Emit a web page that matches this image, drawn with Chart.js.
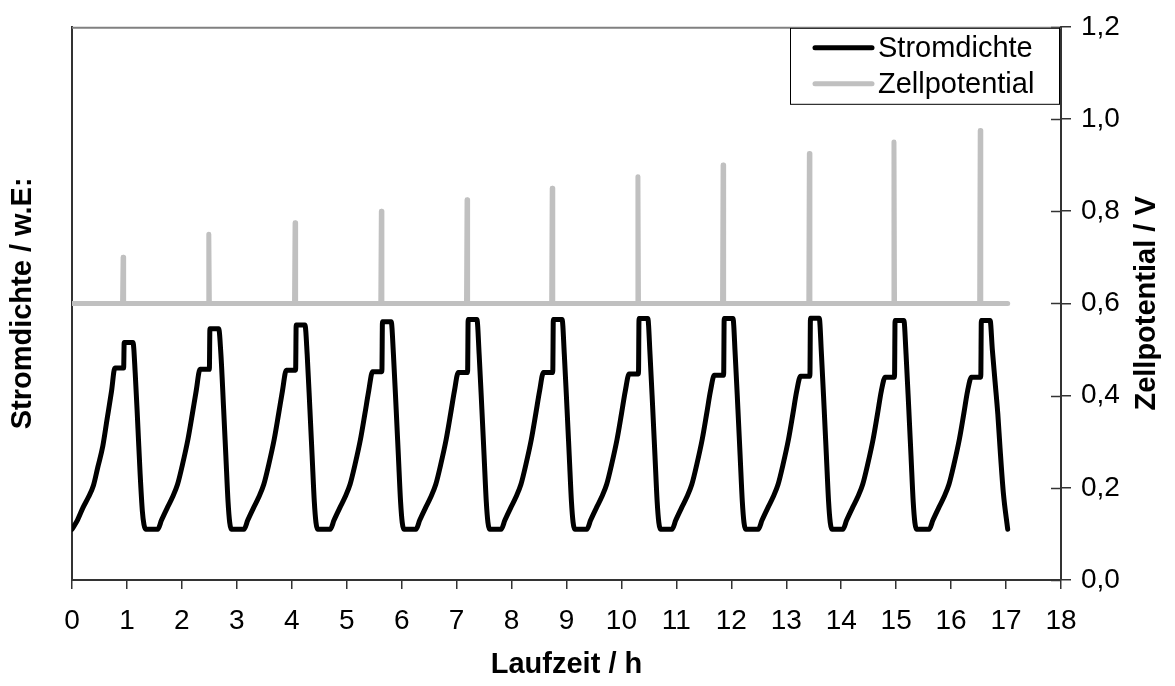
<!DOCTYPE html>
<html>
<head>
<meta charset="utf-8">
<script src="https://cdn.jsdelivr.net/npm/chart.js@4/dist/chart.umd.min.js"></script>
<style>
  html, body { margin: 0; padding: 0; background: #fff; }
</style>
</head>
<body>
<canvas id="chart" width="1175" height="686"></canvas>
<script>
// Laufzeit [h] / Stromdichte [w.E., im Maßstab der rechten Achse]
const stromdichte = [
  [0.00,0.110],[0.10,0.130],[0.20,0.157],[0.30,0.180],[0.39,0.205],[0.47,0.245],[0.56,0.290],[0.64,0.350],[0.72,0.410],[0.78,0.460],[0.94,0.460],[0.95,0.515],[1.11,0.515],[1.15,0.450],[1.20,0.330],[1.24,0.230],[1.28,0.150],[1.31,0.120],[1.34,0.110],
  [1.56,0.110],[1.63,0.130],[1.74,0.158],[1.83,0.180],[1.92,0.207],[2.01,0.250],[2.11,0.305],[2.19,0.360],[2.26,0.410],[2.33,0.457],[2.50,0.457],[2.51,0.545],[2.67,0.545],[2.71,0.490],[2.76,0.370],[2.80,0.270],[2.84,0.170],[2.87,0.125],[2.90,0.110],
  [3.13,0.110],[3.20,0.130],[3.31,0.158],[3.40,0.180],[3.49,0.207],[3.58,0.250],[3.68,0.305],[3.76,0.360],[3.83,0.410],[3.90,0.455],[4.07,0.455],[4.08,0.553],[4.24,0.553],[4.28,0.490],[4.33,0.370],[4.37,0.270],[4.41,0.170],[4.44,0.125],[4.47,0.110],
  [4.70,0.110],[4.77,0.130],[4.88,0.158],[4.97,0.180],[5.06,0.207],[5.15,0.250],[5.25,0.305],[5.33,0.360],[5.40,0.410],[5.47,0.452],[5.64,0.452],[5.65,0.560],[5.81,0.560],[5.85,0.490],[5.90,0.370],[5.94,0.270],[5.98,0.170],[6.01,0.125],[6.04,0.110],
  [6.26,0.110],[6.33,0.130],[6.44,0.158],[6.53,0.180],[6.62,0.207],[6.71,0.250],[6.81,0.305],[6.89,0.360],[6.96,0.410],[7.03,0.450],[7.20,0.450],[7.21,0.565],[7.37,0.565],[7.41,0.490],[7.46,0.370],[7.50,0.270],[7.54,0.170],[7.57,0.125],[7.60,0.110],
  [7.81,0.110],[7.88,0.130],[7.99,0.158],[8.08,0.180],[8.17,0.207],[8.26,0.250],[8.36,0.305],[8.44,0.360],[8.51,0.410],[8.58,0.450],[8.75,0.450],[8.76,0.565],[8.92,0.565],[8.96,0.490],[9.01,0.370],[9.05,0.270],[9.09,0.170],[9.12,0.125],[9.15,0.110],
  [9.37,0.110],[9.44,0.130],[9.55,0.158],[9.64,0.180],[9.73,0.207],[9.82,0.250],[9.92,0.305],[10.00,0.360],[10.07,0.410],[10.14,0.447],[10.31,0.447],[10.32,0.567],[10.48,0.567],[10.52,0.490],[10.57,0.370],[10.61,0.270],[10.65,0.170],[10.68,0.125],[10.71,0.110],
  [10.92,0.110],[10.99,0.130],[11.10,0.158],[11.19,0.180],[11.28,0.207],[11.37,0.250],[11.47,0.305],[11.55,0.360],[11.62,0.410],[11.69,0.444],[11.86,0.444],[11.87,0.567],[12.03,0.567],[12.07,0.490],[12.12,0.370],[12.16,0.270],[12.20,0.170],[12.23,0.125],[12.26,0.110],
  [12.49,0.110],[12.56,0.130],[12.67,0.158],[12.76,0.180],[12.85,0.207],[12.94,0.250],[13.04,0.305],[13.12,0.360],[13.19,0.410],[13.26,0.442],[13.43,0.442],[13.44,0.568],[13.60,0.568],[13.64,0.490],[13.69,0.370],[13.73,0.270],[13.77,0.170],[13.80,0.125],[13.83,0.110],
  [14.03,0.110],[14.10,0.130],[14.21,0.158],[14.30,0.180],[14.39,0.207],[14.48,0.250],[14.58,0.305],[14.66,0.360],[14.73,0.410],[14.80,0.440],[14.97,0.440],[14.98,0.563],[15.14,0.563],[15.18,0.490],[15.23,0.370],[15.27,0.270],[15.31,0.170],[15.34,0.125],[15.37,0.110],
  [15.60,0.110],[15.67,0.130],[15.78,0.158],[15.87,0.180],[15.96,0.207],[16.05,0.250],[16.15,0.305],[16.23,0.360],[16.30,0.410],[16.37,0.440],[16.54,0.440],[16.55,0.563],[16.71,0.563],[16.75,0.500],[16.80,0.430],[16.85,0.360],[16.89,0.287],[16.95,0.190],[17.03,0.110]
];

// Laufzeit [h] / Zellpotential [V]
const zellpotential = [
  [0,0.6],
  [0.92,0.6],[0.93,0.700],[0.94,0.6],
  [2.48,0.6],[2.49,0.750],[2.50,0.6],
  [4.05,0.6],[4.06,0.775],[4.07,0.6],
  [5.62,0.6],[5.63,0.800],[5.64,0.6],
  [7.18,0.6],[7.19,0.825],[7.20,0.6],
  [8.73,0.6],[8.74,0.850],[8.75,0.6],
  [10.29,0.6],[10.30,0.875],[10.31,0.6],
  [11.84,0.6],[11.85,0.900],[11.86,0.6],
  [13.41,0.6],[13.42,0.925],[13.43,0.6],
  [14.95,0.6],[14.96,0.950],[14.97,0.6],
  [16.52,0.6],[16.53,0.975],[16.54,0.6],
  [17.03,0.6]
];

const xBereich = [0, 18];
const yBereich = [0, 1.2];

const achsenFarbe = '#333';
const schrift = "'Liberation Sans', Arial, sans-serif";
Chart.defaults.font.family = schrift;
Chart.defaults.color = '#000';

const rahmen = {
  id: 'rahmen',
  afterDraw(chart) {
    const { ctx, chartArea: a, scales } = chart;
    ctx.save();
    // obere Begrenzung
    ctx.strokeStyle = '#808080';
    ctx.lineWidth = 2;
    ctx.beginPath();
    ctx.moveTo(a.left, a.top + 1);
    ctx.lineTo(a.right, a.top + 1);
    ctx.stroke();

    // Teilstriche nach innen, rechte Achse
    ctx.strokeStyle = achsenFarbe;
    ctx.lineWidth = 1.5;
    scales.y.ticks.forEach(t => {
      const py = Math.round(scales.y.getPixelForValue(t.value)) + 0.5;
      ctx.beginPath();
      ctx.moveTo(a.right - 10, py);
      ctx.lineTo(a.right, py);
      ctx.stroke();
    });

    // Legende
    const lx = a.right - 271, ly = a.top + 1, lw = 269, lh = 76;
    ctx.fillStyle = '#fff';
    ctx.fillRect(lx, ly, lw, lh);
    ctx.strokeStyle = '#000';
    ctx.lineWidth = 1;
    ctx.strokeRect(lx + 0.5, ly + 0.5, lw, lh);
    ctx.font = '29px ' + schrift;
    ctx.textBaseline = 'middle';
    ctx.textAlign = 'left';
    chart.data.datasets.forEach((ds, i) => {
      const yy = ly + 20 + i * 36;
      ctx.strokeStyle = ds.borderColor;
      ctx.lineWidth = 5;
      ctx.lineCap = 'round';
      ctx.beginPath();
      ctx.moveTo(lx + 25, yy);
      ctx.lineTo(lx + 82, yy);
      ctx.stroke();
      ctx.fillStyle = '#000';
      ctx.fillText(ds.label, lx + 88, yy + 1);
    });

    // Titel der rechten Achse (von unten nach oben gelesen)
    ctx.translate(scales.y.right - 28, (a.top + a.bottom) / 2);
    ctx.rotate(-Math.PI / 2);
    ctx.font = 'bold 29px ' + schrift;
    ctx.textAlign = 'center';
    ctx.fillStyle = '#000';
    ctx.fillText('Zellpotential / V', 0, 0);
    ctx.restore();
  }
};

new Chart(document.getElementById('chart'), {
  type: 'line',
  data: {
    datasets: [
      {
        label: 'Stromdichte',
        data: stromdichte.map(([x, y]) => ({ x, y })),
        yAxisID: 'yL',
        borderColor: '#000',
        borderWidth: 5,
        pointRadius: 0,
        cubicInterpolationMode: 'monotone',
        borderJoinStyle: 'round',
        borderCapStyle: 'round'
      },
      {
        label: 'Zellpotential',
        data: zellpotential.map(([x, y]) => ({ x, y })),
        yAxisID: 'y',
        borderColor: '#c0c0c0',
        borderWidth: 5,
        pointRadius: 0,
        tension: 0,
        borderJoinStyle: 'round',
        borderCapStyle: 'round'
      }
    ]
  },
  options: {
    responsive: false,
    animation: false,
    devicePixelRatio: 1,
    layout: { padding: { top: 21, left: 0, right: 0, bottom: 0 } },
    plugins: { legend: { display: false }, tooltip: { enabled: false } },
    scales: {
      x: {
        type: 'linear',
        min: xBereich[0],
        max: xBereich[1],
        ticks: { stepSize: 1, font: { size: 28 }, padding: 15, maxRotation: 0 },
        grid: { drawOnChartArea: false, color: achsenFarbe, tickLength: 9, lineWidth: 1.5 },
        border: { color: achsenFarbe, width: 2 },
        title: { display: true, text: 'Laufzeit / h', font: { size: 29, weight: 'bold' }, padding: { top: 0, bottom: 4 } },
        afterFit(s) { s.height = 106; }
      },
      yL: {
        position: 'left',
        min: yBereich[0],
        max: yBereich[1],
        ticks: { display: false },
        grid: { display: false, drawTicks: false },
        border: { color: achsenFarbe, width: 2 },
        title: { display: true, text: 'Stromdichte / w.E:', font: { size: 29, weight: 'bold' }, padding: { top: 6, bottom: 0 } },
        afterFit(s) { s.width = 72; }
      },
      y: {
        position: 'right',
        min: yBereich[0],
        max: yBereich[1],
        ticks: { stepSize: 0.2, font: { size: 28 }, padding: 10, callback: v => v.toFixed(1).replace('.', ',') },
        grid: { drawOnChartArea: false, color: achsenFarbe, tickLength: 10, lineWidth: 1.5 },
        border: { color: achsenFarbe, width: 2 },
        afterFit(s) { s.width = 114; }
      }
    }
  },
  plugins: [rahmen]
});
</script>
</body>
</html>
